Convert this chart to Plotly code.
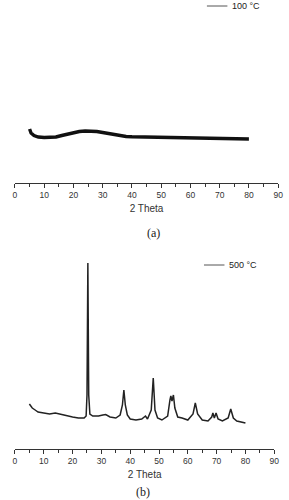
import plotly.graph_objects as go

# Panel (a): 100 °C
theta_a = [5, 5.5, 6.5, 8, 10, 12, 14, 16, 18, 20, 22, 24, 26, 28, 30, 32, 34, 36, 38,
           40, 45, 50, 55, 60, 65, 70, 75, 80]
inten_a = [54, 50, 47.5, 46, 45.5, 45.5, 46, 47.5, 49, 50.5, 51.5, 52, 52, 51.5, 50.5,
           49.5, 48, 47, 46.5, 46.2, 46, 45.5, 45.2, 45, 44.7, 44.5, 44.3, 44]

# Panel (b): 500 °C
theta_b = [5, 6, 7, 8, 10, 12, 14, 15, 17, 20, 22, 24, 24.7, 25.0, 25.3, 25.6, 26.0, 27,
           29, 30.5, 31.5, 33, 35, 36.5, 37.3, 37.8, 38.3, 39, 40, 42, 44, 45.3, 46, 47.3,
           48.0, 48.6, 49.5, 51, 53, 53.8, 54.1, 54.5, 55.0, 55.5, 56.5, 58, 60, 61.8,
           62.6, 63.4, 65, 67, 68.3, 68.7, 69.2, 69.8, 70.5, 72, 74, 74.9, 75.8, 77, 80]
inten_b = [45, 41, 39, 37, 36, 35, 36, 35.5, 34, 32, 31, 31, 33, 54, 186, 54, 35, 33,
           33, 34, 34.5, 32, 31, 34, 44, 59, 44, 34, 30, 29, 30, 33, 30, 39,
           71, 39, 31, 29, 33, 49, 53, 48, 54, 41, 32, 31, 29, 35,
           46, 35, 29, 28, 32, 36, 31, 36, 30, 28, 31, 40, 31, 28, 26]

major_ticks = [0, 10, 20, 30, 40, 50, 60, 70, 80, 90]
labels = ["100 °C", "500 °C"]
panel_tags = ["(a)", "(b)"]
x_title = "2 Theta"

W, H = 289, 500
fig = go.Figure()
fig.add_trace(go.Scatter(x=theta_a, y=inten_a, mode="lines", name=labels[0],
                         line=dict(color="#111111", width=3.4), xaxis="x", yaxis="y",
                         showlegend=False))
fig.add_trace(go.Scatter(x=theta_b, y=inten_b, mode="lines", name=labels[1],
                         line=dict(color="#222222", width=1.5), xaxis="x2", yaxis="y2",
                         showlegend=False))

tickfont = dict(family="Liberation Sans, Arial, sans-serif", size=8.5, color="#333333")
titlefont = dict(family="Liberation Sans, Arial, sans-serif", size=10, color="#333333")

def xax(domain, anchor):
    return dict(domain=domain, anchor=anchor, range=[0, 90], tickvals=major_ticks,
                ticks="outside", ticklen=4, tickwidth=1, tickcolor="#333333",
                showline=True, linecolor="#333333", linewidth=1, showgrid=False,
                zeroline=False, tickfont=tickfont,
                minor=dict(dtick=5, ticks="outside", ticklen=2.5, tickcolor="#333333",
                           tick0=0, showgrid=False),
                title=dict(text=x_title, font=titlefont, standoff=5))

def yax(domain, rng, anchor):
    return dict(domain=domain, range=rng, visible=False, anchor=anchor, fixedrange=True)

fig.update_layout(
    width=W, height=H, margin=dict(l=0, r=0, t=0, b=0),
    paper_bgcolor="white", plot_bgcolor="white",
    xaxis=xax([13.3 / W, 283 / W], "y"),
    yaxis=yax([1 - 183 / H, 1.0], [0, 183], "x"),
    xaxis2=xax([13.3 / W, 279 / W], "y2"),
    yaxis2=yax([1 - 449 / H, 1 - 250 / H], [0, 199], "x2"),
)

# legend-like labels
leg = [(210, 231, 6, labels[0]), (207, 228, 265, labels[1])]
for x0, x1, yp, txt in leg:
    fig.add_shape(type="line", xref="paper", yref="paper", x0=x0 / W, x1=x1 / W,
                  y0=1 - yp / H, y1=1 - yp / H, line=dict(color="#555555", width=1))
    fig.add_annotation(xref="paper", yref="paper", x=(x1 + 3) / W, y=1 - yp / H,
                       xanchor="left", yanchor="middle", text=txt, showarrow=False,
                       font=dict(family="Liberation Sans, Arial, sans-serif", size=9,
                                 color="#222222"))

for xc, yc, tag in [(155, 233, panel_tags[0]), (145, 492, panel_tags[1])]:
    fig.add_annotation(xref="paper", yref="paper", x=xc / W, y=1 - yc / H,
                       xanchor="center", yanchor="middle", text=tag, showarrow=False,
                       font=dict(family="Liberation Serif, Times New Roman, serif",
                                 size=12, color="#222222"))

fig.write_html("out.html")
